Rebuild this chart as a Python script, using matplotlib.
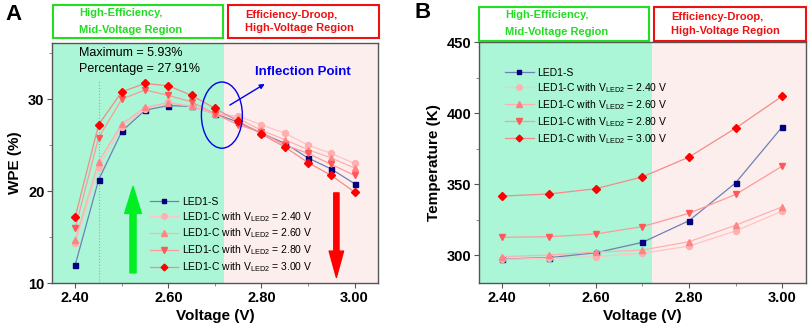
import matplotlib
matplotlib.use("Agg")
import matplotlib.pyplot as plt
from matplotlib.patches import Rectangle, Ellipse
from matplotlib.ticker import MultipleLocator

plt.rcParams['font.family'] = ['Liberation Sans', 'DejaVu Sans']
plt.rcParams['mathtext.fontset'] = 'custom'
plt.rcParams['mathtext.rm'] = 'Liberation Sans'

# ---- data ----
volt_a = [2.40, 2.45, 2.50, 2.55, 2.60, 2.65, 2.70, 2.75, 2.80, 2.85, 2.90, 2.95, 3.00]
wpe_s = [12.0, 21.2, 26.5, 28.8, 29.3, 29.2, 28.4, 27.5, 26.3, 25.2, 23.6, 22.4, 20.8]
wpe_c240 = [14.3, 22.6, 27.0, 28.9, 29.7, 29.2, 28.4, 28.15, 27.2, 26.3, 25.0, 24.1, 23.0]
wpe_c260 = [14.7, 23.2, 27.3, 29.1, 29.6, 29.2, 28.5, 27.9, 26.6, 25.6, 24.5, 23.6, 22.5]
wpe_c280 = [16.0, 25.8, 30.0, 31.0, 30.4, 29.7, 28.4, 27.2, 26.4, 25.0, 24.1, 22.9, 21.7]
wpe_c300 = [17.2, 27.2, 30.8, 31.7, 31.45, 30.4, 29.0, 27.6, 26.2, 24.8, 23.1, 21.7, 19.9]

volt_b = [2.40, 2.50, 2.60, 2.70, 2.80, 2.90, 3.00]
temp_s = [297.2, 298.1, 301.6, 308.9, 324.2, 350.9, 390.4]
temp_c240 = [297.0, 297.7, 298.8, 301.2, 306.3, 317.0, 331.0]
temp_c260 = [298.8, 300.0, 302.1, 303.5, 309.4, 321.0, 334.0]
temp_c280 = [312.5, 312.9, 314.8, 320.0, 329.4, 342.7, 362.7]
temp_c300 = [341.5, 343.0, 346.7, 355.0, 369.0, 389.4, 412.0]

labels = ['LED1-S',
          r'LED1-C with V$_\mathregular{LED2}$ = 2.40 V',
          r'LED1-C with V$_\mathregular{LED2}$ = 2.60 V',
          r'LED1-C with V$_\mathregular{LED2}$ = 2.80 V',
          r'LED1-C with V$_\mathregular{LED2}$ = 3.00 V']
xticks = [2.40, 2.60, 2.80, 3.00]
xticklabels = ['2.40', '2.60', '2.80', '3.00']

# ---- styles ----
styles = [
    dict(marker='s', color='#6f7fb5', mfc='#000080', mec='#000080', ms=3.6),
    dict(marker='o', color='#ffc4c4', mfc='#ffb0b0', mec='#ffb0b0', ms=4.3),
    dict(marker='^', color='#ffb0b0', mfc='#ff8585', mec='#ff8585', ms=4.4),
    dict(marker='v', color='#ff9a9a', mfc='#ff5858', mec='#ff5858', ms=4.4),
    dict(marker='D', color='#f58a8a', mfc='#ff0000', mec='#ff0000', ms=3.8),
]

GREEN_BG = '#aaf6d6'
PINK_BG = '#fdeeee'
SPLIT = 2.72

fig = plt.figure(figsize=(8.09, 3.31), dpi=100)
axA = fig.add_axes([0.0643, 0.145, 0.4027, 0.725])
axB = fig.add_axes([0.592, 0.145, 0.404, 0.728])


def style_axes(ax, ylim, ymaj, ymin):
    ax.set_xlim(2.35, 3.05)
    ax.set_ylim(*ylim)
    ax.axvspan(2.35, SPLIT, color=GREEN_BG, zorder=0, lw=0)
    ax.axvspan(SPLIT, 3.05, color=PINK_BG, zorder=0, lw=0)
    ax.set_xticks(xticks)
    ax.set_xticklabels(xticklabels)
    ax.xaxis.set_minor_locator(MultipleLocator(0.1))
    ax.yaxis.set_major_locator(MultipleLocator(ymaj))
    ax.yaxis.set_minor_locator(MultipleLocator(ymin))
    ax.tick_params(which='major', direction='out', length=3.5, width=0.8,
                   labelsize=10.5, colors='#555555', labelcolor='black', pad=2)
    ax.tick_params(which='minor', direction='out', length=2, width=0.6, colors='#777777')
    for lab in ax.get_xticklabels() + ax.get_yticklabels():
        lab.set_fontweight('bold')
    for sp in ax.spines.values():
        sp.set_color('#555555')
        sp.set_linewidth(1.0)
    ax.set_xlabel('Voltage (V)', fontsize=11, fontweight='bold', labelpad=3)


LEG_KW = dict(frameon=False, fontsize=7.5, handlelength=2.75, handletextpad=0.35,
              labelspacing=0.3, borderaxespad=0, borderpad=0, markerscale=0.9)

# ---- Panel A ----
style_axes(axA, (10, 36.1), 10, 5)
seriesA = [wpe_s, wpe_c240, wpe_c260, wpe_c280, wpe_c300]
order = [1, 2, 3, 0, 4]
handles = [None] * 5
for i in order:
    st = styles[i]
    h, = axA.plot(volt_a, seriesA[i], lw=0.9, zorder=3 + i, **st)
    handles[i] = h
axA.set_ylabel('WPE (%)', fontsize=11, fontweight='bold', labelpad=4)
axA.plot([2.45, 2.45], [10, 32], ls=':', color='#ff8080', lw=0.8, zorder=2)
axA.text(2.409, 35.0, 'Maximum = 5.93%', fontsize=9, va='center', ha='left')
axA.text(2.409, 33.26, 'Percentage = 27.91%', fontsize=9, va='center', ha='left')
axA.add_patch(Ellipse((2.715, 28.26), 0.088, 7.2, fill=False, ec='#0000ee', lw=1.0, zorder=10))
axA.annotate('', xy=(2.807, 31.65), xytext=(2.732, 29.35),
             arrowprops=dict(arrowstyle='-|>', color='#0000ee', lw=1.0,
                             mutation_scale=7, shrinkA=0, shrinkB=0), zorder=10)
axA.text(2.889, 33.0, 'Inflection Point', color='#0000ee', fontsize=9.5,
         fontweight='bold', ha='center', va='center')
axA.annotate('', xy=(2.524, 20.5), xytext=(2.524, 11.1),
             arrowprops=dict(arrowstyle='simple,head_length=0.97,head_width=0.6,tail_width=0.22',
                             color='#00ee22', mutation_scale=20, shrinkA=0, shrinkB=0), zorder=9)
axA.annotate('', xy=(2.961, 10.6), xytext=(2.961, 19.8),
             arrowprops=dict(arrowstyle='simple,head_length=0.95,head_width=0.52,tail_width=0.19',
                             color='#ff0000', mutation_scale=20, shrinkA=0, shrinkB=0), zorder=9)
axA.legend(handles, labels, loc='upper left', bbox_to_anchor=(0.30, 0.36), **LEG_KW)

# ---- Panel B ----
style_axes(axB, (280.3, 450), 50, 25)
seriesB = [temp_s, temp_c240, temp_c260, temp_c280, temp_c300]
handlesB = [None] * 5
for i in order:
    st = styles[i]
    h, = axB.plot(volt_b, seriesB[i], lw=0.9, zorder=3 + i, **st)
    handlesB[i] = h
axB.set_ylabel('Temperature (K)', fontsize=11, fontweight='bold', labelpad=4)
axB.legend(handlesB, labels, loc='upper left', bbox_to_anchor=(0.08, 0.893), **LEG_KW)

# ---- Region boxes & panel labels ----
W, H = 809.0, 331.0


def fig_box(x0, y0, x1, y1, color):
    fig.patches.append(Rectangle((x0 / W, 1 - y1 / H), (x1 - x0) / W, (y1 - y0) / H,
                                 transform=fig.transFigure, fill=False, ec=color, lw=1.5))


def fig_text(x, y, s, color, **kw):
    fig.text(x / W, 1 - y / H, s, color=color, fontsize=8.0, fontweight='bold',
             va='center', ha='left', **kw)


GREEN_T = '#22dd22'
RED_T = '#ee1111'
fig_box(53, 5, 223, 38, GREEN_T)
fig_box(228, 5, 379, 38, RED_T)
fig_text(79, 13, 'High-Efficiency,', GREEN_T)
fig_text(79, 30, 'Mid-Voltage Region', GREEN_T)
fig_text(245, 15, 'Efficiency-Droop,', RED_T)
fig_text(245, 28, 'High-Voltage Region', RED_T)

fig_box(479, 7, 649, 41, GREEN_T)
fig_box(654, 7, 806, 41, RED_T)
fig_text(505, 15, 'High-Efficiency,', GREEN_T)
fig_text(505, 32, 'Mid-Voltage Region', GREEN_T)
fig_text(671, 17, 'Efficiency-Droop,', RED_T)
fig_text(671, 31, 'High-Voltage Region', RED_T)

fig.text(5 / W, 1 - 14 / H, 'A', fontsize=16, fontweight='bold', va='center', ha='left')
fig.text(414 / W, 1 - 13 / H, 'B', fontsize=16, fontweight='bold', va='center', ha='left')

fig.savefig('out.png', dpi=100)
